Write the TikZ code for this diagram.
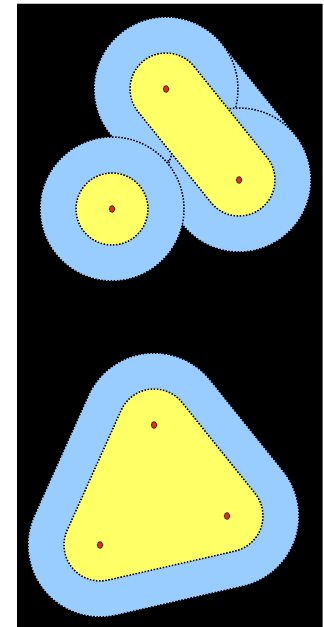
\documentclass[tikz,border=0pt]{standalone}
\usetikzlibrary{calc}
\definecolor{skyb}{RGB}{153,204,255}
\definecolor{lemon}{RGB}{255,255,102}
\definecolor{dotred}{RGB}{232,45,8}
\tikzset{
  outline/.style={draw=black, line width=1.5pt, dash pattern=on 1.5pt off 1.6pt},
  outer/.style={fill=skyb, outline},
  inner/.style={fill=lemon, outline},
  site/.style={fill=dotred, draw=black!85, line width=1pt, dash pattern=on 0.8pt off 0.6pt}
}
\begin{document}
\begin{tikzpicture}[x=1pt,y=1pt]
\useasboundingbox (0,0) rectangle (324,627);
\fill[white] (0,0) rectangle (324,627);
\fill[black] (17,0) rectangle (322,623);
\fill[black!60] (322,0) rectangle (323.2,623);
\fill[black!25] (17,623) rectangle (322,623.8);
% sites (top figure)
\coordinate (A) at (166,538);
\coordinate (B) at (239,447);
\coordinate (C) at (112,418);
% sites (bottom figure)
\coordinate (P1) at (154,202);
\coordinate (P2) at (227,111);
\coordinate (P3) at (100,82);
% ---- top figure: outer offsets ----
\path[outer] ($(A)+(38.74:72pt)$) -- ($(B)+(38.74:72pt)$) -- ($(B)+(218.74:72pt)$) -- ($(A)+(218.74:72pt)$) -- cycle;
\path[outer] (A) circle[radius=72pt];
\path[outer] (B) circle[radius=72pt];
\path[outer] (C) circle[radius=72pt];
% ---- top figure: inner offsets ----
\path[inner] ($(A)+(38.74:36pt)$) -- ($(B)+(38.74:36pt)$)
   arc[start angle=38.74, end angle=-141.26, radius=36pt]
   -- ($(A)+(218.74:36pt)$)
   arc[start angle=218.74, end angle=38.74, radius=36pt] -- cycle;
\path[inner] (C) circle[radius=36pt];
% ---- bottom figure ----
\path[outer] ($(P1)+(38.74:72pt)$) arc[start angle=38.74, end angle=155.77, radius=72pt]
   -- ($(P3)+(155.77:72pt)$) arc[start angle=155.77, end angle=282.86, radius=72pt]
   -- ($(P2)+(282.86:72pt)$) arc[start angle=282.86, end angle=398.74, radius=72pt] -- cycle;
\path[inner] ($(P1)+(38.74:36pt)$) arc[start angle=38.74, end angle=155.77, radius=36pt]
   -- ($(P3)+(155.77:36pt)$) arc[start angle=155.77, end angle=282.86, radius=36pt]
   -- ($(P2)+(282.86:36pt)$) arc[start angle=282.86, end angle=398.74, radius=36pt] -- cycle;
% ---- site markers ----
\foreach \p in {A,B,C,P1,P2,P3}
  \path[site] (\p) ellipse[x radius=2.8pt, y radius=3.4pt];
\end{tikzpicture}
\end{document}
